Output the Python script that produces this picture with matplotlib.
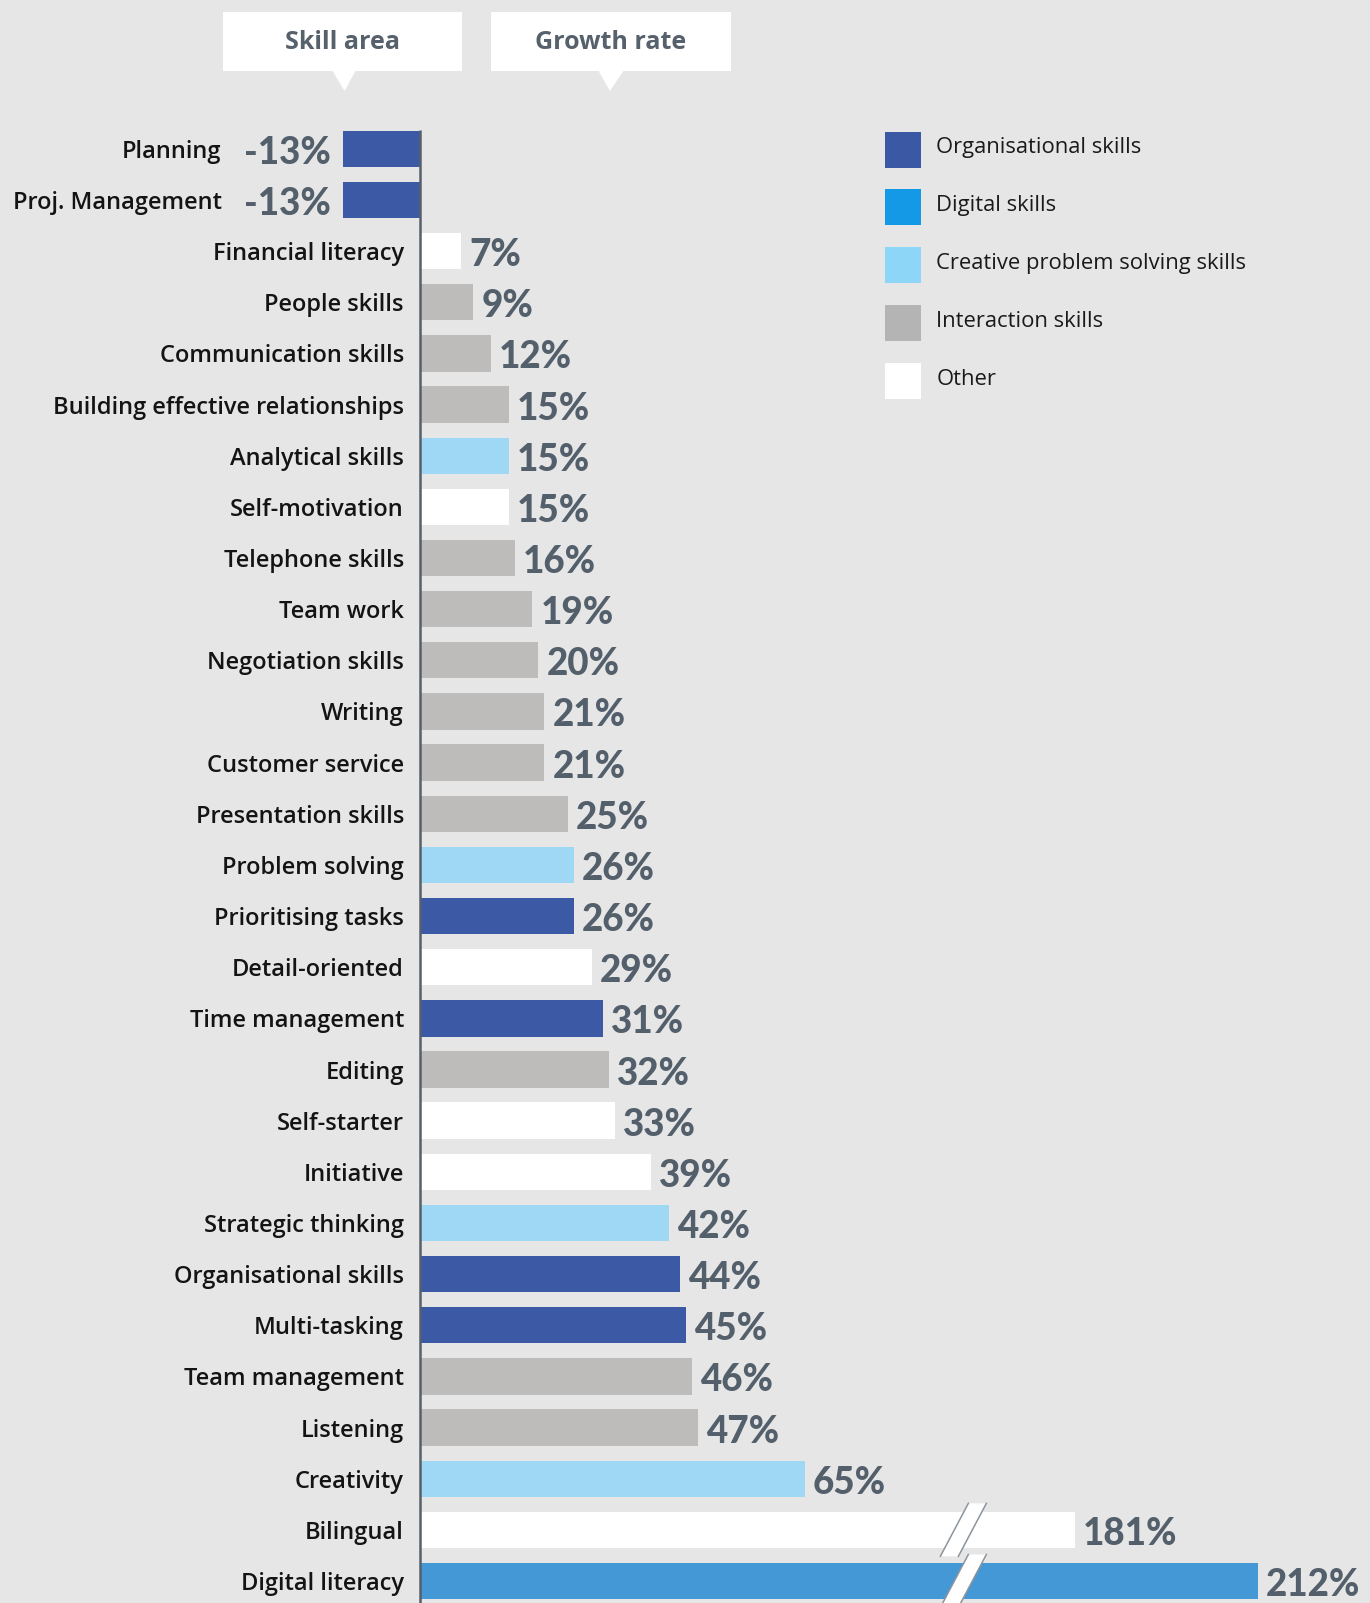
import numpy as np
import matplotlib
matplotlib.use("Agg")
import matplotlib.pyplot as plt
from matplotlib.patches import Rectangle, Polygon
from matplotlib.transforms import ScaledTranslation

skills = ["Planning", "Proj. Management", "Financial literacy", "People skills",
          "Communication skills", "Building effective relationships",
          "Analytical skills", "Self-motivation", "Telephone skills", "Team work",
          "Negotiation skills", "Writing", "Customer service", "Presentation skills",
          "Problem solving", "Prioritising tasks", "Detail-oriented",
          "Time management", "Editing", "Self-starter", "Initiative",
          "Strategic thinking", "Organisational skills", "Multi-tasking",
          "Team management", "Listening", "Creativity", "Bilingual",
          "Digital literacy"]
growth = [-13, -13, 7, 9, 12, 15, 15, 15, 16, 19, 20, 21, 21, 25, 26, 26, 29,
          31, 32, 33, 39, 42, 44, 45, 46, 47, 65, 181, 212]
group = ["org", "org", "other", "inter", "inter", "inter", "creative", "other",
         "inter", "inter", "inter", "inter", "inter", "inter", "creative", "org",
         "other", "org", "inter", "other", "other", "creative", "org", "org",
         "inter", "inter", "creative", "other", "digital"]

legend_labels = ["Organisational skills", "Digital skills",
                 "Creative problem solving skills", "Interaction skills", "Other"]
legend_keys = ["org", "digital", "creative", "inter", "other"]

bar_colors = {"org": "#3b59a4", "digital": "#4398d5", "creative": "#9fd8f5",
              "inter": "#bdbcba", "other": "#ffffff"}
legend_colors = {"org": "#3a58a3", "digital": "#1399e6", "creative": "#8ed6f8",
                 "inter": "#b4b4b4", "other": "#ffffff"}

BG = "#e6e6e6"
SLATE = "#535f6b"
W, H = 1370, 1603
DPI = 100

# broken axis: values between BREAK and BREAK+GAP are squeezed out
BREAK, GAP = 91.8, 70.4


def fwd(x):
    x = np.asarray(x, float)
    return np.where(x <= BREAK, x, np.where(x >= BREAK + GAP, x - GAP, BREAK))


def inv(u):
    u = np.asarray(u, float)
    return np.where(u <= BREAK, u, u + GAP)


fig = plt.figure(figsize=(W / DPI, H / DPI), dpi=DPI, facecolor=BG)
ax = fig.add_axes([300 / W, 0, 1 - 300 / W, 1503 / H], facecolor=BG)
ax.set_xscale("function", functions=(fwd, inv))

y = np.arange(len(skills))
ax.barh(y, growth, height=0.71, color=[bar_colors[g] for g in group], zorder=2)
ax.set_xlim(-20.27, 230.9)
ax.set_ylim(28.43, -0.954)
ax.plot([0, 0], [-0.36, 28.43], color="#56606b", lw=1.8, zorder=3,
        solid_capstyle="butt")
for s in ax.spines.values():
    s.set_visible(False)
ax.set_xticks([])
ax.set_yticks([])

px = 1 / DPI
lab_font = dict(family=["Open Sans", "DejaVu Sans"], weight="semibold",
                size=17.05, color="#141414")
val_font = dict(family=["Lato", "DejaVu Sans"], weight="black", size=26.5,
                color=SLATE)

for i, (name, v) in enumerate(zip(skills, growth)):
    if v < 0:
        tv = ax.transData + ScaledTranslation(-12 * px, -15 * px, fig.dpi_scale_trans)
        ax.text(v, i, f"{v}%", ha="right", va="baseline", transform=tv, **val_font)
        tl = ax.transData + ScaledTranslation(-121.5 * px, 0, fig.dpi_scale_trans)
        ax.text(v, i, name, ha="right", va="center_baseline", transform=tl, **lab_font)
    else:
        tv = ax.transData + ScaledTranslation(8 * px, -15 * px, fig.dpi_scale_trans)
        ax.text(v, i, f"{v}%", ha="left", va="baseline", transform=tv, **val_font)
        tl = ax.transData + ScaledTranslation(-16 * px, 0, fig.dpi_scale_trans)
        ax.text(0, i, name, ha="right", va="center_baseline", transform=tl, **lab_font)

    if v > BREAK + GAP:
        # break mark drawn in pixel offsets around (BREAK, row)
        tb = fig.dpi_scale_trans + ScaledTranslation(BREAK, i, ax.transData)
        hw, sl, hh = 9, 14, 26.5
        pts = np.array([[sl - hw, hh], [sl + hw, hh], [-sl + hw, -hh], [-sl - hw, -hh]]) * px
        ax.add_patch(Polygon(pts, closed=True, facecolor="white", edgecolor="none",
                             transform=tb, zorder=4, clip_on=False))
        for a, b in [(0, 3), (1, 2)]:
            ax.plot(pts[[a, b], 0], pts[[a, b], 1], color="#8c949c", lw=1.1,
                    transform=tb, zorder=5, clip_on=False)

# legend
ff = fig.transFigure
for k, (lab, key) in enumerate(zip(legend_labels, legend_keys)):
    yc = 149.5 + k * 57.8
    fig.add_artist(Rectangle((885 / W, 1 - (yc + 18) / H), 36 / W, 36 / H,
                             facecolor=legend_colors[key], edgecolor="none",
                             transform=ff))
    fig.text(936.5 / W, 1 - (yc - 4) / H, lab, ha="left", va="center_baseline",
             family=["Open Sans", "DejaVu Sans"], size=15.8, color="#1a1a1a")

# header call-outs
for txt, (x0, x1, t0, tip, t1) in [("Skill area", (223, 462, 332, 344.5, 356)),
                                   ("Growth rate", (491, 731, 598, 610, 624))]:
    fig.add_artist(Rectangle((x0 / W, 1 - 70.5 / H), (x1 - x0) / W, 58.2 / H,
                             facecolor="white", edgecolor="none", transform=ff))
    fig.add_artist(Polygon([[t0 / W, 1 - 70 / H], [t1 / W, 1 - 70 / H],
                            [tip / W, 1 - 91 / H]], closed=True,
                           facecolor="white", edgecolor="none", transform=ff))
    fig.text((x0 + x1) / 2 / W, 1 - 39.5 / H, txt, ha="center",
             va="center_baseline", family=["Open Sans", "DejaVu Sans"],
             weight="bold", size=18, color="#56616c")

fig.savefig("out.png", dpi=DPI, facecolor=BG)
